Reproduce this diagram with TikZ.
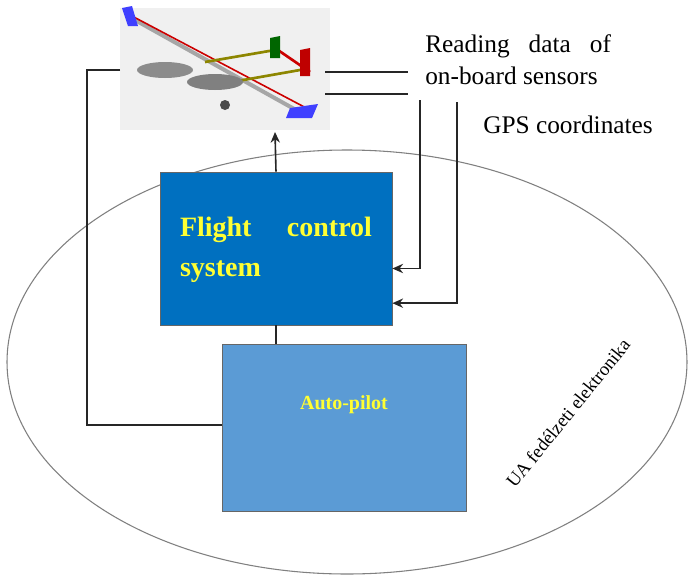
\documentclass[tikz,border=0pt]{standalone}
\usepackage{fontspec}
\setmainfont{Liberation Serif}
\usetikzlibrary{arrows.meta}
\definecolor{fcsblue}{HTML}{0070C0}
\definecolor{apblue}{HTML}{5B9BD5}
\definecolor{txtyellow}{HTML}{FFFF33}
\tikzset{
  wire/.style={draw=black!85, line width=1.2pt},
  arr/.style={wire, -{Stealth[length=8pt,width=7pt]}},
  block/.style={draw=black!60, line width=0.6pt, inner sep=0pt}
}
\begin{document}
\begin{tikzpicture}[x=0.75pt,y=-0.75pt]
        \useasboundingbox (0,0) rectangle (694,576);
        \fill[white] (0,0) rectangle (694,576);

        % electronics boundary
        \draw[gray, line width=0.8pt] (347,362) ellipse (340 and 212);
        \node[rotate=51, font=\fontsize{14}{16}\selectfont] (UA) at (568,413) {UA fedélzeti elektronika};

        % aircraft
        \fill[black!6] (120,8) rectangle (330,130);
        \draw[black!35, line width=3pt] (135,20) -- (305,115);
        \draw[red!80!black, line width=1.2pt] (130,15) -- (310,110);
        \draw[olive, line width=2pt] (205,62) -- (275,50);
        \draw[olive, line width=2pt] (215,85) -- (300,70);
        \draw[red!80!black, line width=2pt] (275,48) -- (310,72);
        \fill[blue!75] (122,8) -- (132,6) -- (138,26) -- (128,26) -- cycle;
        \fill[blue!75] (290,108) -- (318,104) -- (312,118) -- (286,118) -- cycle;
        \fill[green!40!black] (270,38) -- (280,36) -- (280,58) -- (270,58) -- cycle;
        \fill[red!75!black] (300,50) -- (310,48) -- (310,76) -- (300,76) -- cycle;
        \fill[black!45] (165,70) ellipse (28 and 8);
        \fill[black!50] (215,82) ellipse (28 and 8);
        \fill[black!70] (225,105) circle (5);
        \coordinate (plane) at (275,132);
        \coordinate (pL) at (120,70);
        \coordinate (pR1) at (325,72);
        \coordinate (pR2) at (325,94);

        % blocks
        \node[block, fill=fcsblue, minimum width=232*0.75pt, minimum height=153*0.75pt] (FCS) at (276,248.5) {};
        \node[text=txtyellow, font=\bfseries\fontsize{21}{30}\selectfont, text width=192*0.75pt, align=left] (FCSt) at (276,250) {Flight\hfill control\\system};
        \node[block, fill=apblue, minimum width=244*0.75pt, minimum height=167*0.75pt] (AP) at (344,427.5) {};
        \node[text=txtyellow, font=\bfseries\fontsize{15}{18}\selectfont] (APt) at (344,405) {Auto-pilot};

        % labels
        \node[anchor=north west, align=left, inner sep=0pt, font=\fontsize{19}{24}\selectfont] (sens) at (425,34) {Reading\hspace{0.75em}data\hspace{0.75em}of\\on-board sensors};
        \node[anchor=north west, inner sep=0pt, font=\fontsize{19}{24}\selectfont] (gps) at (483,116) {GPS coordinates};
        \coordinate (s1) at (408,72);
        \coordinate (s2) at (408,94);
        \coordinate (v1) at (420,100);
        \coordinate (v2) at (457,102);

        % connectors
        \draw[wire] (pR1) -- (s1);
        \draw[wire] (pR2) -- (s2);
        \draw[arr] (v1) |- ([yshift=-15pt]FCS.east);
        \draw[arr] (v2) |- ([yshift=-41pt]FCS.east);
        \draw[arr] (FCS.north) -- (plane);
        \draw[wire] (AP.north -| FCS.south) -- (FCS.south);
        \draw[wire] (pL) -- (87,70) |- (AP.west |- 0,425);
\end{tikzpicture}
\end{document}
